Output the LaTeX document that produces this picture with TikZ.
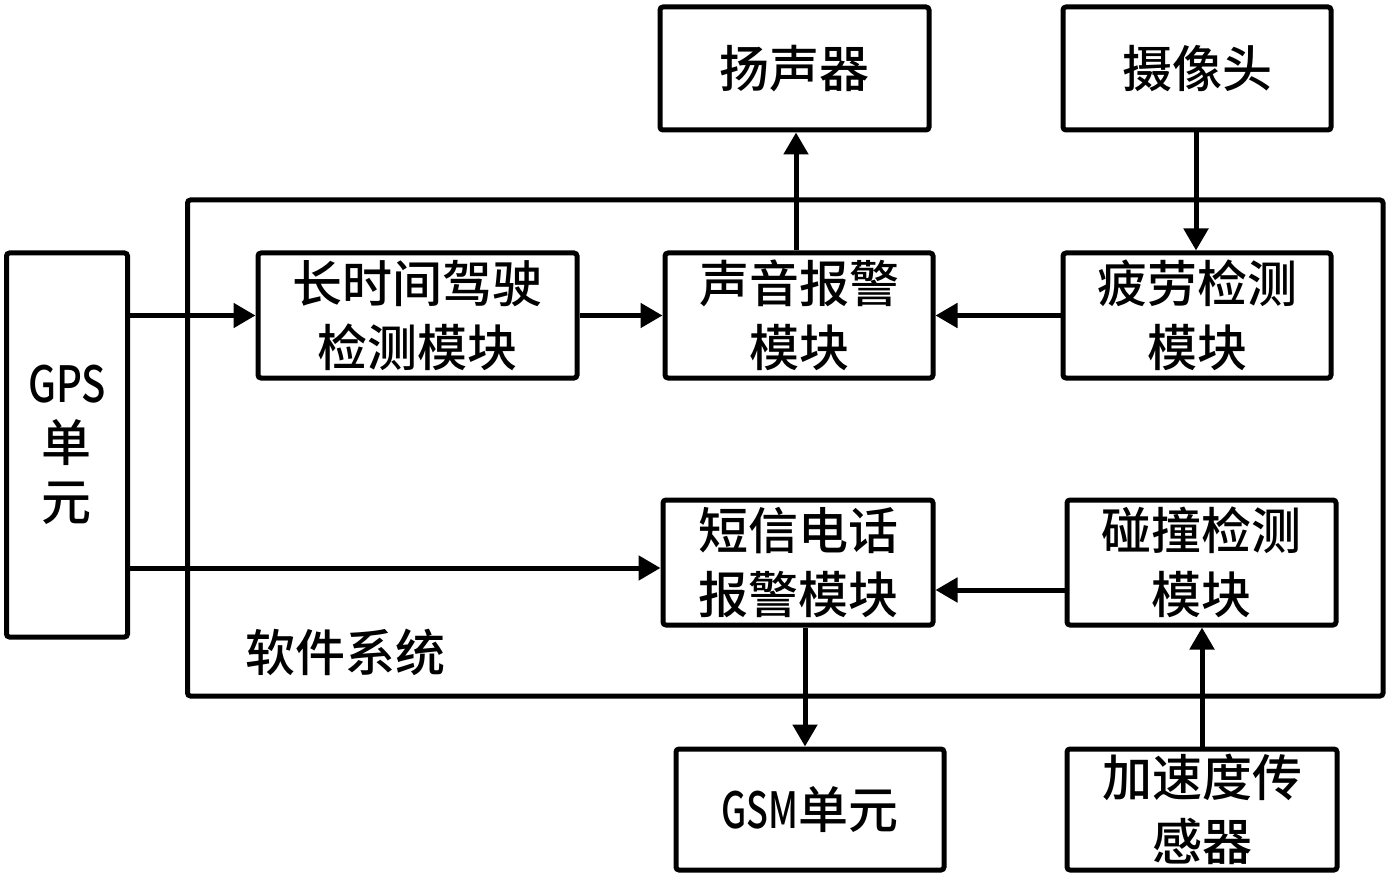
\documentclass[tikz,border=0pt]{standalone}
\usepackage{fontspec}
\setmainfont{Noto Sans CJK SC Medium}
\usetikzlibrary{arrows.meta,calc}
\tikzset{
  blk/.style={draw, line width=5pt, rounded corners=3pt, inner sep=0pt, align=center,
    font=\fontsize{50}{64}\selectfont},
  arr/.style={line width=5pt, -{Triangle[length=22pt,width=24pt]}},
}
\begin{document}
\begin{tikzpicture}[x=1pt,y=-1pt]
\useasboundingbox (0,0) rectangle (1390,877);
% software system frame
\node[draw, line width=5pt, rounded corners=3pt, inner sep=0pt, minimum width=1195.5pt, minimum height=496pt] (sys) at (785.25,448) {};
\node[font=\fontsize{50}{60}\selectfont, inner sep=0pt] (syslbl) at (345,652) {软件系统};
% boxes
\node[blk, minimum width=121pt, minimum height=384pt, font=\fontsize{50}{59}\selectfont] (gps) at (67,445) {\scalebox{0.8}[1]{GPS}\\单\\元};
\node[blk, minimum width=319pt, minimum height=125pt] (lcd) at (417.5,315.5) {长时间驾驶\\检测模块};
\node[blk, minimum width=268pt, minimum height=125pt] (sy) at (799,315.5) {声音报警\\模块};
\node[blk, minimum width=268pt, minimum height=125pt] (pl) at (1197,315.5) {疲劳检测\\模块};
\node[blk, minimum width=269pt, minimum height=123pt] (ysq) at (794.5,68.5) {扬声器};
\node[blk, minimum width=268pt, minimum height=123pt] (sxt) at (1197,68.5) {摄像头};
\node[blk, minimum width=270pt, minimum height=125pt] (dx) at (798,562.5) {短信电话\\报警模块};
\node[blk, minimum width=269pt, minimum height=125pt] (pz) at (1201.5,562.5) {碰撞检测\\模块};
\node[blk, minimum width=268pt, minimum height=121pt] (gsm) at (810,809.5) {\scalebox{0.72}[1]{GSM}单元};
\node[blk, minimum width=270pt, minimum height=121pt] (jsd) at (1202,809.5) {加速度传\\感器};
% connectors
\draw[arr] (gps.east |- lcd.west) -- (lcd.west);
\draw[arr] ($(gps.east |- dx.west)+(0,5.5)$) -- ($(dx.west)+(0,5.5)$);
\draw[arr] (lcd.east) -- (sy.west);
\draw[arr] (pl.west) -- (sy.east);
\draw[arr] ($(sy.north)+(-3,0)$) -- ($(sy.north |- ysq.south)+(-3,0)$);
\draw[arr] ($(sxt.south)+(-1,0)$) -- ($(pl.north)+(-1,0)$);
\draw[arr] ($(pz.west)+(0,27.5)$) -- ($(dx.east)+(0,27.5)$);
\draw[arr] ($(dx.south)+(7,0)$) -- ($(dx.south |- gsm.north)+(7,0)$);
\draw[arr] (jsd.north) -- (jsd.north |- pz.south);
\end{tikzpicture}
\end{document}
